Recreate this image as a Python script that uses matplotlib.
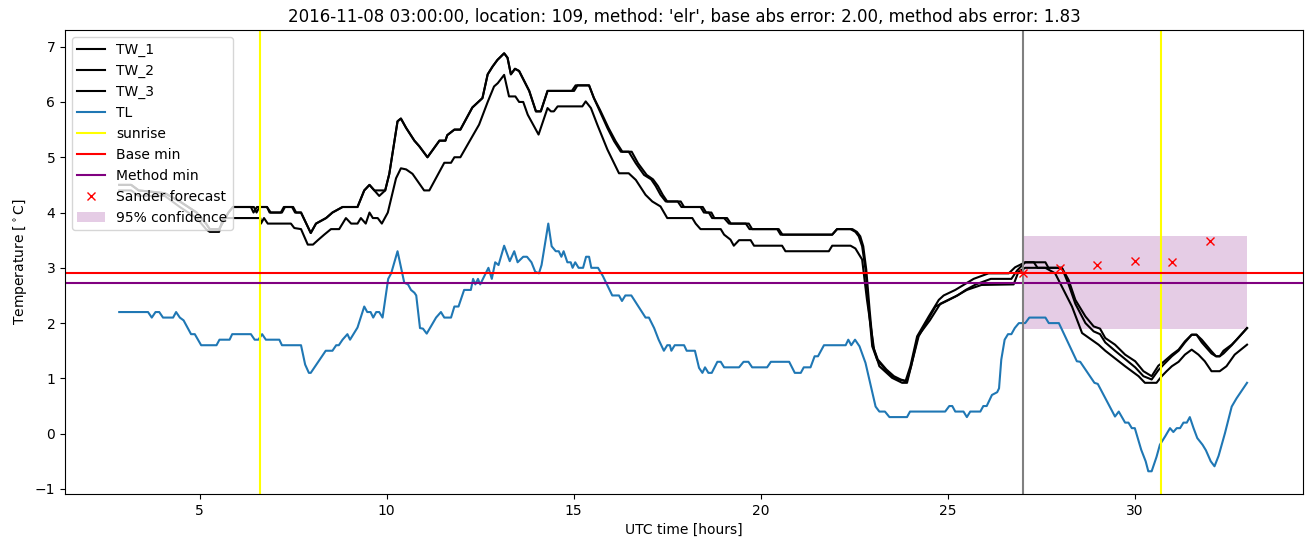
import numpy as np
import matplotlib
matplotlib.use("Agg")
import matplotlib.pyplot as plt

# --- data ---
tl_hours = [2.85, 3.62, 3.72, 3.82, 3.92, 4.02, 4.29, 4.37, 4.47, 4.57, 4.77, 4.87, 5.04, 5.45, 5.53, 5.8,
            5.87, 6.37, 6.47, 6.57, 6.67, 6.77, 7.13, 7.2, 7.71, 7.82, 7.92, 7.97, 8.37, 8.55, 8.65, 8.72,
            8.82, 8.95, 9.02, 9.22, 9.4, 9.48, 9.57, 9.64, 9.72, 9.8, 9.89, 10.04, 10.12, 10.29, 10.47, 10.57,
            10.65, 10.74, 10.79, 10.89, 10.97, 11.07, 11.32, 11.45, 11.54, 11.72, 11.81, 11.92, 12.07, 12.25,
            12.31, 12.37, 12.44, 12.5, 12.72, 12.81, 12.9, 12.99, 13.14, 13.29, 13.41, 13.5, 13.65, 13.75,
            13.87, 13.97, 14.07, 14.14, 14.32, 14.41, 14.52, 14.6, 14.67, 14.73, 14.83, 14.92, 14.97, 15.04,
            15.13, 15.25, 15.33, 15.41, 15.47, 15.65, 15.78, 16.03, 16.21, 16.29, 16.38, 16.54, 16.92, 17.01,
            17.15, 17.27, 17.41, 17.5, 17.57, 17.61, 17.7, 17.95, 18.02, 18.24, 18.35, 18.44, 18.51, 18.6,
            18.69, 18.84, 18.93, 19.02, 19.42, 19.54, 19.67, 19.77, 20.17, 20.27, 20.76, 20.91, 21.07, 21.15,
            21.33, 21.44, 21.53, 21.69, 22.27, 22.34, 22.42, 22.52, 22.64, 22.8, 23.07, 23.17, 23.32, 23.44,
            23.91, 23.99, 24.93, 25.04, 25.12, 25.2, 25.42, 25.51, 25.6, 25.87, 25.95, 26.04, 26.18, 26.32,
            26.37, 26.43, 26.52, 26.61, 26.7, 26.79, 26.9, 27.07, 27.18, 27.61, 27.7, 27.97, 28.45, 28.54,
            28.92, 29.01, 29.47, 29.57, 29.74, 29.83, 29.92, 30.0, 30.17, 30.29, 30.36, 30.45, 30.58, 30.67,
            30.81, 30.94, 31.03, 31.12, 31.21, 31.3, 31.39, 31.47, 31.57, 31.67, 31.81, 31.9, 32.03, 32.13,
            32.24, 32.41, 32.59, 32.72, 33.0]
tl_temp = [2.2, 2.2, 2.1, 2.2, 2.2, 2.1, 2.1, 2.2, 2.1, 2.05, 1.8, 1.8, 1.6, 1.6, 1.7, 1.7,
           1.8, 1.8, 1.7, 1.7, 1.8, 1.7, 1.7, 1.6, 1.6, 1.25, 1.1, 1.1, 1.5, 1.5, 1.6, 1.6,
           1.7, 1.8, 1.7, 1.92, 2.3, 2.2, 2.2, 2.1, 2.2, 2.2, 2.1, 2.8, 2.9, 3.3, 2.73, 2.7,
           2.6, 2.55, 2.5, 1.91, 1.9, 1.81, 2.1, 2.2, 2.1, 2.1, 2.3, 2.3, 2.6, 2.6,
           2.8, 2.7, 2.8, 2.7, 3.0, 2.8, 3.1, 3.05, 3.4, 3.12, 3.3, 3.1, 3.2, 3.2,
           3.1, 2.93, 2.9, 3.05, 3.8, 3.39, 3.3, 3.3, 3.2, 3.3, 3.1, 3.1, 3.0, 3.1,
           3.0, 3.0, 3.2, 3.2, 3.0, 3.0, 2.85, 2.5, 2.5, 2.4, 2.5, 2.5, 2.1, 2.1,
           1.91, 1.7, 1.5, 1.6, 1.6, 1.5, 1.6, 1.6, 1.5, 1.5, 1.19, 1.1, 1.2, 1.1,
           1.1, 1.3, 1.3, 1.2, 1.2, 1.3, 1.3, 1.2, 1.2, 1.3, 1.3, 1.1, 1.1, 1.2,
           1.2, 1.4, 1.4, 1.6, 1.6, 1.7, 1.6, 1.7, 1.58, 1.28, 0.49, 0.4, 0.4, 0.3,
           0.3, 0.4, 0.4, 0.5, 0.5, 0.4, 0.4, 0.3, 0.4, 0.4, 0.5, 0.5, 0.7, 0.75,
           0.82, 1.34, 1.7, 1.8, 1.8, 1.91, 2.0, 2.0, 2.1, 2.1, 2.0, 2.0, 1.31, 1.3,
           0.92, 0.9, 0.31, 0.4, 0.2, 0.2, 0.1, 0.1, -0.29, -0.5, -0.68, -0.68, -0.42, -0.2,
           -0.05, 0.1, 0.03, 0.1, 0.1, 0.2, 0.2, 0.3, 0.1, -0.08, -0.2, -0.3, -0.5, -0.59,
           -0.4, 0.01, 0.49, 0.64, 0.92]

tw1_hours = [2.85, 3.17, 3.37, 4.07, 4.47, 4.92, 5.17, 5.27, 5.52, 5.77, 5.89, 6.37, 6.44, 6.53, 6.8, 6.87,
             7.17, 7.25, 7.47, 7.55, 7.71, 7.97, 8.11, 8.38, 8.55, 8.82, 9.22, 9.4, 9.54, 9.67, 9.8, 9.96,
             10.07, 10.29, 10.38, 10.52, 10.74, 10.87, 11.09, 11.41, 11.57, 11.62, 11.81, 11.97, 12.29, 12.56,
             12.7, 12.83, 12.96, 13.14, 13.23, 13.32, 13.43, 13.54, 13.81, 13.99, 14.12, 14.3, 15.01, 15.1,
             15.41, 15.54, 15.68, 15.9, 16.08, 16.26, 16.47, 16.66, 16.88, 17.07, 17.19, 17.32, 17.46, 17.86,
             17.95, 18.39, 18.48, 18.61, 18.7, 19.02, 19.15, 19.68, 19.77, 20.44, 20.53, 21.91, 22.04, 22.4,
             22.53, 22.62, 22.71, 22.8, 22.89, 22.98, 23.11, 23.33, 23.51, 23.69, 23.87, 24.0, 24.18, 24.49,
             24.76, 24.89, 25.2, 25.42, 25.69, 26.09, 26.63, 26.8, 27.07, 27.61, 27.69, 28.05, 28.23, 28.41,
             28.68, 28.9, 29.07, 29.21, 29.47, 29.74, 30.01, 30.23, 30.45, 30.63, 30.77, 30.99, 31.17, 31.34,
             31.52, 31.65, 31.79, 32.05, 32.17, 32.27, 32.37, 32.59, 32.72, 33.0]
tw1_temp = [4.5, 4.5, 4.4, 4.35, 4.2, 4.0, 3.8, 3.7, 3.7, 4.0, 4.1, 4.1, 4.0, 4.1, 4.1, 4.0,
            4.0, 4.1, 4.1, 4.0, 4.0, 3.63, 3.8, 3.9, 4.0, 4.1, 4.1, 4.4, 4.5, 4.4, 4.4, 4.4,
            4.7, 5.65, 5.7, 5.53, 5.3, 5.2, 5.0, 5.3, 5.3, 5.4, 5.5, 5.5, 5.9, 6.07,
            6.5, 6.64, 6.76, 6.88, 6.8, 6.5, 6.6, 6.56, 6.2, 5.83, 5.83, 6.2, 6.2, 6.3,
            6.3, 6.07, 5.86, 5.53, 5.29, 5.1, 5.1, 4.89, 4.68, 4.6, 4.48, 4.32, 4.2, 4.2,
            4.1, 4.1, 4.0, 4.0, 3.9, 3.9, 3.8, 3.8, 3.7, 3.7, 3.6, 3.6, 3.7, 3.7,
            3.65, 3.57, 3.39, 2.97, 2.24, 1.58, 1.34, 1.16, 1.04, 0.98, 0.95, 1.22, 1.76, 2.12,
            2.42, 2.5, 2.6, 2.69, 2.8, 2.9, 2.9, 3.01, 3.1, 3.1, 3.0, 3.0, 2.78, 2.42,
            2.12, 1.94, 1.9, 1.73, 1.61, 1.43, 1.31, 1.13, 1.04, 1.23, 1.3, 1.43, 1.52, 1.67,
            1.79, 1.79, 1.7, 1.49, 1.4, 1.4, 1.5, 1.61, 1.7, 1.91]

tw2_hours = [2.85, 3.17, 3.37, 4.07, 4.47, 4.92, 5.17, 5.27, 5.52, 5.77, 5.89, 6.45, 6.52, 6.6, 6.8, 6.9,
             7.2, 7.28, 7.5, 7.58, 7.71, 7.97, 8.11, 8.38, 8.55, 8.82, 9.22, 9.4, 9.54, 9.67, 9.8, 9.96,
             10.07, 10.29, 10.38, 10.52, 10.74, 10.87, 11.09, 11.41, 11.57, 11.62, 11.81, 11.97, 12.29, 12.56,
             12.7, 12.83, 12.96, 13.14, 13.23, 13.32, 13.43, 13.54, 13.81, 13.99, 14.12, 14.3, 14.95, 15.05,
             15.41, 15.54, 15.7, 15.93, 16.12, 16.3, 16.55, 16.72, 16.95, 17.12, 17.25, 17.38, 17.5, 17.78,
             17.88, 18.45, 18.54, 18.68, 18.76, 19.1, 19.2, 19.6, 19.7, 20.48, 20.58, 21.91, 22.04, 22.45,
             22.57, 22.66, 22.74, 22.82, 22.91, 23.0, 23.13, 23.36, 23.56, 23.74, 23.9, 24.02, 24.2, 24.52,
             24.8, 24.95, 25.26, 25.48, 25.75, 26.15, 26.7, 26.85, 27.07, 27.3, 27.4, 27.61, 27.69, 28.05,
             28.23, 28.41, 28.68, 28.9, 29.07, 29.21, 29.47, 29.74, 30.01, 30.23, 30.45, 30.63, 30.77, 30.99,
             31.17, 31.34, 31.52, 31.65, 31.79, 32.05, 32.17, 32.27, 32.37, 32.59, 32.72, 33.0]
tw2_temp = [4.5, 4.5, 4.4, 4.35, 4.2, 4.0, 3.8, 3.7, 3.7, 4.0, 4.1, 4.1, 4.0, 4.1, 4.1, 4.0,
            4.0, 4.1, 4.1, 4.0, 4.0, 3.63, 3.8, 3.9, 4.0, 4.1, 4.1, 4.4, 4.5, 4.4, 4.3, 4.4,
            4.7, 5.65, 5.7, 5.53, 5.3, 5.2, 5.0, 5.3, 5.3, 5.4, 5.5, 5.5, 5.9, 6.07,
            6.5, 6.64, 6.76, 6.88, 6.8, 6.5, 6.6, 6.56, 6.2, 5.83, 5.83, 6.2, 6.2, 6.3,
            6.3, 6.07, 5.86, 5.53, 5.29, 5.1, 5.1, 4.89, 4.68, 4.6, 4.48, 4.32, 4.2, 4.2,
            4.1, 4.1, 4.0, 4.0, 3.9, 3.9, 3.8, 3.8, 3.7, 3.7, 3.6, 3.6, 3.7, 3.7,
            3.65, 3.57, 3.39, 2.97, 2.24, 1.58, 1.34, 1.16, 1.04, 0.98, 0.95, 1.22, 1.76, 2.05,
            2.35, 2.4, 2.5, 2.6, 2.7, 2.8, 2.8, 2.95, 3.1, 3.1, 3.0, 3.0, 3.0, 3.0,
            2.7, 2.35, 2.0, 1.85, 1.8, 1.65, 1.5, 1.35, 1.2, 1.04, 0.98, 1.15, 1.25, 1.4,
            1.5, 1.65, 1.79, 1.79, 1.65, 1.45, 1.4, 1.4, 1.45, 1.6, 1.7, 1.91]

tw3_hours = [2.85, 3.17, 3.37, 4.07, 4.47, 4.92, 5.17, 5.27, 5.52, 5.62, 6.62, 6.64, 6.72, 6.82, 7.44, 7.53,
             7.71, 7.89, 8.03, 8.16, 8.33, 8.51, 8.73, 8.91, 9.05, 9.22, 9.31, 9.44, 9.54, 9.63, 9.76, 9.87,
             10.03, 10.25, 10.38, 10.52, 10.69, 11.0, 11.14, 11.54, 11.72, 11.81, 11.97, 12.47, 12.7, 12.87,
             12.97, 13.14, 13.27, 13.44, 13.54, 13.65, 13.77, 14.06, 14.3, 14.39, 14.47, 14.57, 15.23, 15.32,
             15.46, 15.63, 15.9, 16.21, 16.47, 16.66, 16.92, 17.1, 17.32, 17.5, 18.17, 18.26, 18.39, 18.93,
             19.02, 19.19, 19.28, 19.42, 19.73, 19.82, 20.57, 20.66, 21.82, 21.91, 22.4, 22.53, 22.71, 22.84,
             23.03, 23.17, 23.51, 23.78, 23.91, 24.04, 24.22, 24.67, 24.97, 25.2, 25.51, 25.9, 26.76, 26.89,
             27.07, 27.61, 27.87, 28.32, 28.59, 29.03, 29.21, 29.74, 30.1, 30.27, 30.58, 30.72, 30.85, 30.99,
             31.17, 31.34, 31.52, 31.7, 31.87, 32.05, 32.27, 32.45, 32.67, 33.0]
tw3_temp = [4.4, 4.4, 4.3, 4.3, 4.1, 3.9, 3.7, 3.65, 3.65, 3.9, 3.9, 3.8, 3.9, 3.8, 3.8, 3.72,
            3.7, 3.42, 3.42, 3.5, 3.6, 3.7, 3.7, 3.9, 3.8, 3.8, 3.9, 3.8, 4.0, 3.9, 3.9, 3.8,
            4.0, 4.62, 4.8, 4.78, 4.7, 4.4, 4.4, 4.9, 4.9, 5.0, 5.0, 5.59, 6.0, 6.28,
            6.34, 6.49, 6.1, 6.1, 6.0, 6.0, 5.77, 5.41, 5.89, 5.83, 5.83, 5.92, 5.92, 6.01,
            5.89, 5.59, 5.14, 4.71, 4.71, 4.59, 4.32, 4.2, 4.11, 3.9, 3.9, 3.8, 3.7, 3.7,
            3.6, 3.51, 3.4, 3.5, 3.5, 3.4, 3.4, 3.3, 3.3, 3.4, 3.4, 3.35, 3.15, 2.42,
            1.52, 1.22, 1.01, 0.92, 0.92, 1.28, 1.76, 2.3, 2.4, 2.48, 2.6, 2.69, 2.7, 2.93,
            3.0, 3.0, 2.9, 2.3, 1.82, 1.61, 1.5, 1.22, 1.04, 0.92, 0.92, 1.04, 1.13, 1.22,
            1.3, 1.43, 1.52, 1.43, 1.31, 1.13, 1.13, 1.22, 1.43, 1.61]

sunrise_hours = [6.6, 30.7]
base_min = 2.9
method_min = 2.73
forecast_time = 27.0
sander_hours = [27, 28, 29, 30, 31, 32]
sander_temp = [2.9, 3.0, 3.06, 3.13, 3.11, 3.49]
conf_low, conf_high = 1.89, 3.58

title = "2016-11-08 03:00:00, location: 109, method: 'elr', base abs error: 2.00, method abs error: 1.83"

fig = plt.figure(figsize=(13.13, 5.47), dpi=100)
ax = fig.add_axes([0.0495, 0.097, 0.943, 0.848])

ax.plot(tw1_hours, tw1_temp, color='black', label='TW_1')
ax.plot(tw2_hours, tw2_temp, color='black', label='TW_2')
ax.plot(tw3_hours, tw3_temp, color='black', label='TW_3')
ax.plot(tl_hours, tl_temp, color='C0', label='TL')
for i, s in enumerate(sunrise_hours):
    ax.axvline(s, color='yellow', label='sunrise' if i == 0 else None)
ax.axhline(base_min, color='red', label='Base min')
ax.axhline(method_min, color='purple', label='Method min')
ax.axvline(forecast_time, color='grey')
ax.plot(sander_hours, sander_temp, 'x', color='red', label='Sander forecast')
ax.fill_between([sander_hours[0], 33], conf_low, conf_high, color='purple', alpha=0.2,
                linewidth=0, label='95% confidence')

ax.set_xlim(1.4, 34.5)
ax.set_ylim(-1.09, 7.3)
ax.set_xlabel('UTC time [hours]')
ax.set_ylabel(r'Temperature [$^\circ$C]')
ax.set_title(title)
ax.legend(loc='upper left')

fig.savefig('out.png', dpi=100)
